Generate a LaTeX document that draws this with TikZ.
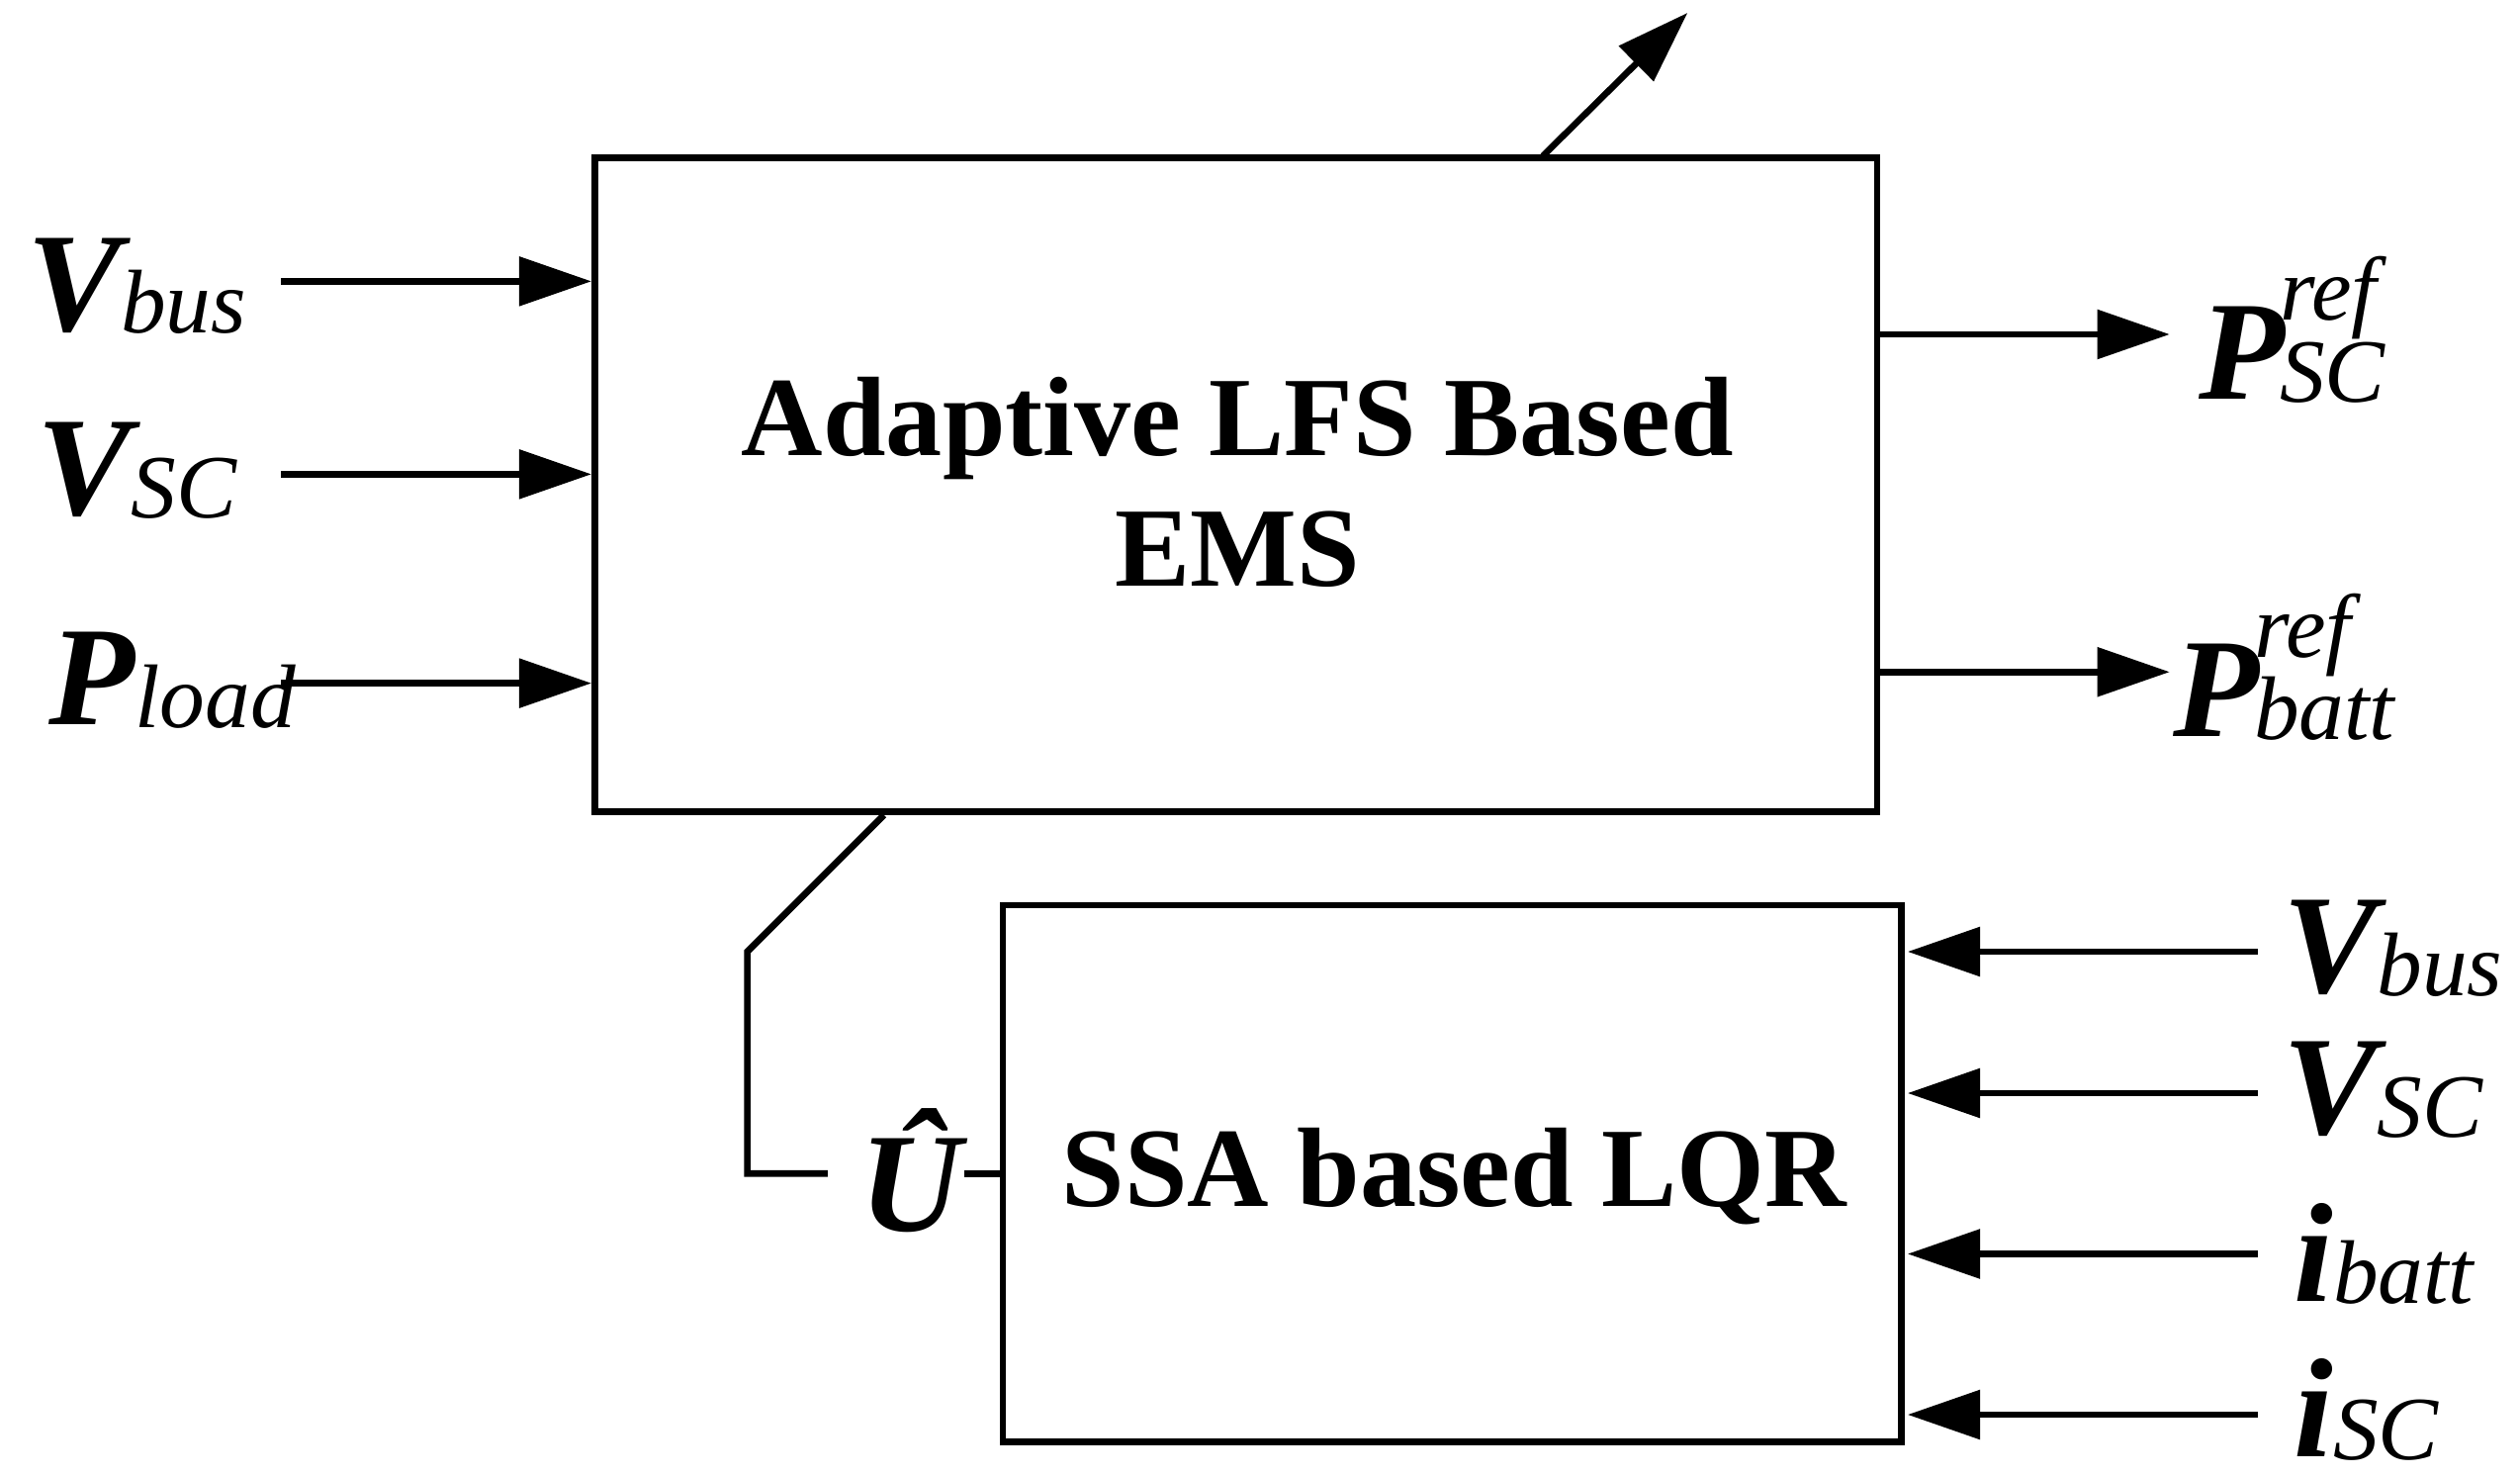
\documentclass[tikz,border=0pt]{standalone}
\usepackage{fontspec}
\setmainfont{Liberation Serif}
\usetikzlibrary{arrows.meta}
\newcommand\Lb[2]{{\fontsize{50}{50}\selectfont\bfseries\itshape #1}{\fontsize{32}{32}\selectfont\itshape\raisebox{-1pt}{#2}}}
\newcommand\Lsr[2]{{\fontsize{50}{50}\selectfont\bfseries\itshape P}\kern-2pt{\fontsize{32}{32}\selectfont\itshape\rlap{\raisebox{28pt}{ref}}\raisebox{-1pt}{#2}}}
\begin{document}
\begin{tikzpicture}[x=0.02cm,y=-0.02cm,
  ln/.style={line width=2.3pt},
  ar/.style={ln,-{Triangle[length=0.9cm,width=0.6cm]}},
  box/.style={ln,draw},
  lab/.style={inner sep=0pt}]
\useasboundingbox (0,0) rectangle (1568,918);
\draw[box] (370,98) rectangle (1168,505);
\node[lab,font=\fontsize{40}{46}\selectfont\bfseries,align=center] (t1) at (770,300) {Adaptive LFS Based\\EMS};
\draw[box] (624,563) rectangle (1183,897);
\node[lab,font=\fontsize{40}{46}\selectfont\bfseries] (t2) at (905,732) {SSA based LQR};
% top arrow
\coordinate (ta) at (960,97); \coordinate (tb) at (1050,8);
\draw[ar] (ta) -- (tb);
% left inputs
\foreach \y/\n in {175/a,295/b,425/c}{\coordinate (l\n) at (175,\y); \coordinate (r\n) at (368,\y); \draw[ar] (l\n) -- (r\n);}
\node[lab] at (85,178) {\Lb{V}{bus}};
\node[lab] at (85,293) {\Lb{V}{SC}};
\node[lab] at (107,423) {\Lb{P}{load}};
% outputs
\foreach \y/\n in {208/a,418/b}{\coordinate (o\n) at (1170,\y); \coordinate (p\n) at (1350,\y); \draw[ar] (o\n) -- (p\n);}
\node[lab,anchor=west] at (1368,205) {\Lsr{P}{SC}};
\node[lab,anchor=west] at (1352,415) {\Lsr{P}{batt}};
% connector
\coordinate (c1) at (550,507); \coordinate (c2) at (465,592); \coordinate (c3) at (465,730); \coordinate (c4) at (515,730);
\draw[ln] (c1) -- (c2) -- (c3) -- (c4);
\node[lab] (u) at (567,728) {\fontsize{50}{50}\selectfont\bfseries\itshape \^{U}};
\coordinate (c5) at (600,730); \coordinate (c6) at (624,730);
\draw[ln] (c5) -- (c6);
% right inputs
\foreach \y/\n in {592/a,680/b,780/c,880/d}{\coordinate (s\n) at (1405,\y); \coordinate (e\n) at (1187,\y); \draw[ar] (s\n) -- (e\n);}
\node[lab,anchor=west] at (1420,590) {\Lb{V}{bus}};
\node[lab,anchor=west] at (1420,678) {\Lb{V}{SC}};
\node[lab,anchor=west] at (1427,780) {\Lb{i}{batt}};
\node[lab,anchor=west] at (1427,877) {\Lb{i}{SC}};
\end{tikzpicture}
\end{document}
